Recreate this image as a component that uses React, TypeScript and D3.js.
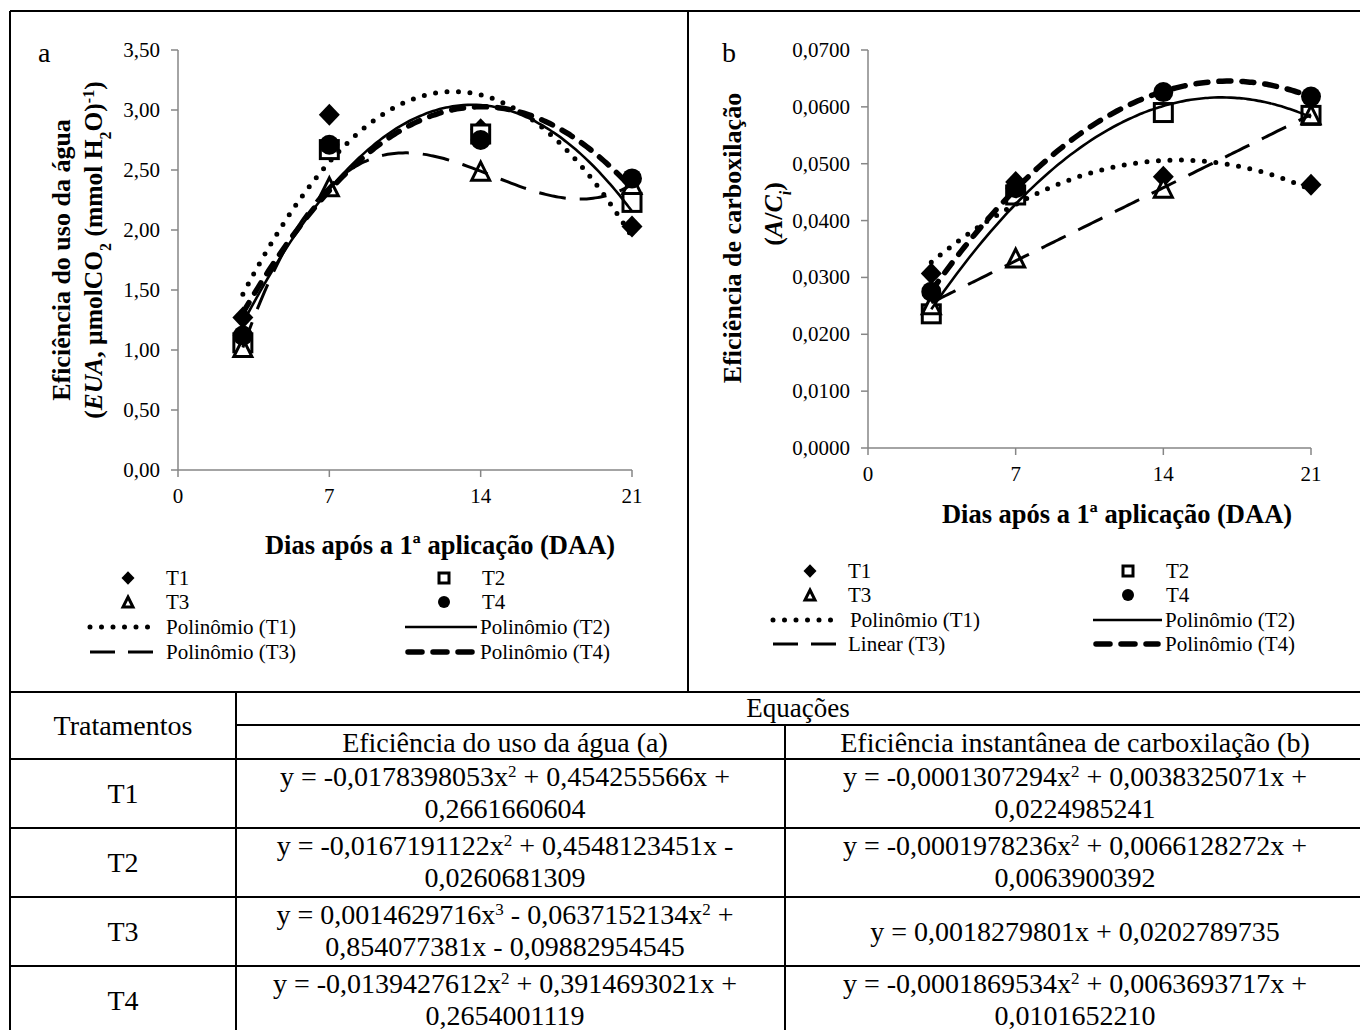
import React from 'react';
import * as d3 from 'd3';

// dias após a 1a aplicação
const days = [3, 7, 14, 21];

// (a) eficiência do uso da água
const euaT1 = [1.27, 2.96, 2.84, 2.03];
const euaT2 = [1.06, 2.67, 2.80, 2.23];
const euaT3 = [1.02, 2.36, 2.49, 2.38];
const euaT4 = [1.12, 2.71, 2.75, 2.43];

// (b) eficiência de carboxilação
const carbT1 = [0.0307, 0.0468, 0.0477, 0.0463];
const carbT2 = [0.0236, 0.0445, 0.0590, 0.0585];
const carbT3 = [0.0252, 0.0334, 0.0457, 0.0586];
const carbT4 = [0.0275, 0.0457, 0.0626, 0.0618];

const xTicks = [0, 7, 14, 21];
const yTicksA = [0, 0.5, 1, 1.5, 2, 2.5, 3, 3.5];
const yTicksB = [0, 0.01, 0.02, 0.03, 0.04, 0.05, 0.06, 0.07];

const tratamentos = ['T1', 'T2', 'T3', 'T4'];
// equações da tabela: [linha1, linha2] ; '^' marca expoente
const eqA = [
  ['y = -0,0178398053x^2^ + 0,454255566x +', '0,2661660604'],
  ['y = -0,0167191122x^2^ + 0,4548123451x -', '0,0260681309'],
  ['y = 0,0014629716x^3^ - 0,0637152134x^2^ +', '0,854077381x - 0,09882954545'],
  ['y = -0,0139427612x^2^ + 0,3914693021x +', '0,2654001119'],
];
const eqB = [
  ['y = -0,0001307294x^2^ + 0,0038325071x +', '0,0224985241'],
  ['y = -0,0001978236x^2^ + 0,0066128272x +', '0,0063900392'],
  ['y = 0,0018279801x + 0,0202789735'],
  ['y = -0,0001869534x^2^ + 0,0063693717x +', '0,0101652210'],
];

const FONT = '"Liberation Serif", "Times New Roman", serif';

// line styles of the trendlines
const styles = {
  dot: { strokeWidth: 5, strokeDasharray: '0 11.5', strokeLinecap: 'round' as const },
  solid: { strokeWidth: 2.6 },
  longdash: { strokeWidth: 3, strokeDasharray: '27 14' },
  heavy: { strokeWidth: 5.5, strokeDasharray: '12 11', strokeLinecap: 'round' as const },
};

// least squares polynomial (like excel trendline)
function polyfit(xs: number[], ys: number[], deg: number) {
  const n = deg + 1;
  const A: number[][] = [];
  for (let r = 0; r < n; r++) {
    const row: number[] = [];
    for (let c = 0; c < n; c++) row.push(d3.sum(xs, x => Math.pow(x, r + c)));
    row.push(d3.sum(xs.map((x, i) => Math.pow(x, r) * ys[i])));
    A.push(row);
  }
  for (let i = 0; i < n; i++) {
    let p = i;
    for (let k = i + 1; k < n; k++) if (Math.abs(A[k][i]) > Math.abs(A[p][i])) p = k;
    [A[i], A[p]] = [A[p], A[i]];
    for (let k = i + 1; k < n; k++) {
      const f = A[k][i] / A[i][i];
      for (let c = i; c <= n; c++) A[k][c] -= f * A[i][c];
    }
  }
  const coef = new Array(n).fill(0);
  for (let i = n - 1; i >= 0; i--) {
    let s = A[i][n];
    for (let c = i + 1; c < n; c++) s -= A[i][c] * coef[c];
    coef[i] = s / A[i][i];
  }
  return (x: number) => coef.reduce((acc, c, i) => acc + c * Math.pow(x, i), 0);
}

function Marker({ type, x, y, s }: { type: string; x: number; y: number; s: number }) {
  const h = s / 2;
  if (type === 'diamond')
    return <path d={`M${x},${y - h * 1.05}L${x + h},${y}L${x},${y + h * 1.05}L${x - h},${y}Z`} fill="#000" />;
  if (type === 'square')
    return <rect x={x - h + 1.5} y={y - h + 1.5} width={s - 3} height={s - 3} fill="#fff" stroke="#000" strokeWidth={3} />;
  if (type === 'triangle')
    return <path d={`M${x},${y - h + 1.5}L${x + h - 1.5},${y + h - 1.5}L${x - h + 1.5},${y + h - 1.5}Z`} fill="#fff" stroke="#000" strokeWidth={3} strokeLinejoin="miter" />;
  return <circle cx={x} cy={y} r={h - 0.5} fill="#000" />;
}

type Series = { name: string; marker: string; values: number[]; deg: number; style: any };

function Panel(props: {
  letter: string; x0: number; x1: number; y0: number; y1: number; yMax: number;
  yTicks: number[]; fmt: (v: number) => string; series: Series[];
}) {
  const { x0, x1, y0, y1, yMax, yTicks, fmt, series } = props;
  const x = d3.scaleLinear().domain([0, 21]).range([x0, x1]);
  const y = d3.scaleLinear().domain([0, yMax]).range([y0, y1]);
  const line = d3.line<[number, number]>().x(d => x(d[0])).y(d => y(d[1])).curve(d3.curveBasis);
  const grid = d3.range(days[0], days[days.length - 1] + 0.001, 0.2);
  return (
    <g>
      <line x1={x0} x2={x0} y1={y0} y2={y1} stroke="#868686" strokeWidth={1.5} />
      <line x1={x0} x2={x1} y1={y0} y2={y0} stroke="#868686" strokeWidth={1.5} />
      {yTicks.map(t => (
        <g key={t}>
          <line x1={x0 - 7} x2={x0} y1={y(t)} y2={y(t)} stroke="#868686" strokeWidth={1.5} />
          <text x={x0 - 18} y={y(t) + 7} textAnchor="end" fontSize={21}>{fmt(t)}</text>
        </g>
      ))}
      {xTicks.map(t => (
        <g key={t}>
          <line x1={x(t)} x2={x(t)} y1={y0} y2={y0 + 7} stroke="#868686" strokeWidth={1.5} />
          <text x={x(t)} y={y0 + 33} textAnchor="middle" fontSize={21}>{t}</text>
        </g>
      ))}
      {series.map(s => (
        <g key={s.name}>
          {s.values.map((v, i) => <Marker key={i} type={s.marker} x={x(days[i])} y={y(v)} s={21} />)}
        </g>
      ))}
      {series.map(s => {
        const f = polyfit(days, s.values, s.deg);
        const pts = grid.map(d => [d, f(d)] as [number, number]);
        return <path key={s.name} d={line(pts) || ''} fill="none" stroke="#000" {...s.style} />;
      })}
    </g>
  );
}

function LegendItem({ x, y, kind, label }: { x: number; y: number; kind: string; label: string }) {
  return (
    <g>
      <Marker type={kind} x={x} y={y - 7} s={13} />
      <text x={x + 38} y={y} fontSize={21}>{label}</text>
    </g>
  );
}

function LegendLine({ x0, x1, tx, y, style, label }: { x0: number; x1: number; tx: number; y: number; style: any; label: string }) {
  return (
    <g>
      <line x1={x0} x2={x1} y1={y - 7} y2={y - 7} stroke="#000" {...style} />
      <text x={tx} y={y} fontSize={21}>{label}</text>
    </g>
  );
}

function Eq({ x, y, text }: { x: number; y: number; text: string }) {
  const parts = text.split('^');
  return (
    <text x={x} y={y} textAnchor="middle" fontSize={28}>
      {parts.map((p, i) => i % 2 === 1
        ? <tspan key={i} fontSize={17} baselineShift="super">{p}</tspan>
        : <tspan key={i}>{p}</tspan>)}
    </text>
  );
}

export default function App() {
  const fa = (v: number) => d3.format('.2f')(v).replace('.', ',');
  const fb = (v: number) => d3.format('.4f')(v).replace('.', ',');

  const seriesA: Series[] = [
    { name: 'T1', marker: 'diamond', values: euaT1, deg: 2, style: styles.dot },
    { name: 'T2', marker: 'square', values: euaT2, deg: 2, style: styles.solid },
    { name: 'T3', marker: 'triangle', values: euaT3, deg: 3, style: styles.longdash },
    { name: 'T4', marker: 'circle', values: euaT4, deg: 2, style: styles.heavy },
  ];
  const seriesB: Series[] = [
    { name: 'T1', marker: 'diamond', values: carbT1, deg: 2, style: styles.dot },
    { name: 'T2', marker: 'square', values: carbT2, deg: 2, style: styles.solid },
    { name: 'T3', marker: 'triangle', values: carbT3, deg: 1, style: styles.longdash },
    { name: 'T4', marker: 'circle', values: carbT4, deg: 2, style: styles.heavy },
  ];

  const rowLines = [759, 828, 897, 966];
  const colA = 505;
  const colB = 1075;

  return (
    <svg width={1360} height={1030} style={{ position: 'absolute', left: 0, top: 0, background: '#fff' }}
      fontFamily={FONT}>
      <rect x={0} y={0} width={1360} height={1030} fill="#fff" />

      {/* moldura */}
      <g stroke="#000" strokeWidth={2}>
        <line x1={10} x2={1360} y1={11} y2={11} />
        <line x1={10} x2={10} y1={11} y2={1030} />
        <line x1={688} x2={688} y1={11} y2={692} />
        <line x1={10} x2={1360} y1={692} y2={692} />
        <line x1={236} x2={236} y1={692} y2={1030} />
        <line x1={236} x2={1360} y1={725} y2={725} />
        <line x1={785} x2={785} y1={725} y2={1030} />
        {rowLines.map(r => <line key={r} x1={10} x2={1360} y1={r} y2={r} />)}
      </g>

      {/* painel a */}
      <text x={38} y={62} fontSize={28}>a</text>
      <Panel letter="a" x0={178} x1={632} y0={470} y1={50} yMax={3.5} yTicks={yTicksA} fmt={fa} series={seriesA} />
      <text transform="translate(70,260) rotate(-90)" textAnchor="middle" fontSize={26} fontWeight="bold">
        Eficiência do uso da água
      </text>
      <text transform="translate(102,250) rotate(-90)" textAnchor="middle" fontSize={25.5} fontWeight="bold">
        (<tspan fontStyle="italic">EUA</tspan>, µmolCO<tspan fontSize={16} baselineShift="sub">2</tspan> (mmol H<tspan fontSize={16} baselineShift="sub">2</tspan>O)<tspan fontSize={16} baselineShift="super">-1</tspan>)
      </text>
      <text x={440} y={554} textAnchor="middle" fontSize={26.5} fontWeight="bold">Dias após a 1ª aplicação (DAA)</text>

      <LegendItem x={128} y={585} kind="diamond" label="T1" />
      <LegendItem x={444} y={585} kind="square" label="T2" />
      <LegendItem x={128} y={609} kind="triangle" label="T3" />
      <LegendItem x={444} y={609} kind="circle" label="T4" />
      <LegendLine x0={90} x1={152} tx={166} y={634} style={styles.dot} label="Polinômio (T1)" />
      <LegendLine x0={405} x1={477} tx={480} y={634} style={styles.solid} label="Polinômio (T2)" />
      <LegendLine x0={90} x1={160} tx={166} y={659} style={{ strokeWidth: 3, strokeDasharray: '25 13' }} label="Polinômio (T3)" />
      <LegendLine x0={408} x1={474} tx={480} y={659} style={{ strokeWidth: 5.5, strokeDasharray: '14 11', strokeLinecap: 'round' }} label="Polinômio (T4)" />

      {/* painel b */}
      <text x={722} y={62} fontSize={28}>b</text>
      <Panel letter="b" x0={868} x1={1311} y0={448} y1={50} yMax={0.07} yTicks={yTicksB} fmt={fb} series={seriesB} />
      <text transform="translate(741,238) rotate(-90)" textAnchor="middle" fontSize={26} fontWeight="bold">
        Eficiência de carboxilação
      </text>
      <text transform="translate(782,214) rotate(-90)" textAnchor="middle" fontSize={26} fontWeight="bold">
        (<tspan fontStyle="italic">A</tspan>/<tspan fontStyle="italic">C</tspan><tspan fontStyle="italic" fontSize={16} baselineShift="sub">i</tspan>)
      </text>
      <text x={1117} y={523} textAnchor="middle" fontSize={26.5} fontWeight="bold">Dias após a 1ª aplicação (DAA)</text>

      <LegendItem x={810} y={578} kind="diamond" label="T1" />
      <LegendItem x={1128} y={578} kind="square" label="T2" />
      <LegendItem x={810} y={602} kind="triangle" label="T3" />
      <LegendItem x={1128} y={602} kind="circle" label="T4" />
      <LegendLine x0={773} x1={835} tx={850} y={627} style={styles.dot} label="Polinômio (T1)" />
      <LegendLine x0={1093} x1={1162} tx={1165} y={627} style={styles.solid} label="Polinômio (T2)" />
      <LegendLine x0={773} x1={845} tx={848} y={651} style={{ strokeWidth: 3, strokeDasharray: '25 13' }} label="Linear (T3)" />
      <LegendLine x0={1096} x1={1158} tx={1165} y={651} style={{ strokeWidth: 5.5, strokeDasharray: '14 11', strokeLinecap: 'round' }} label="Polinômio (T4)" />

      {/* tabela */}
      <text x={123} y={735} textAnchor="middle" fontSize={28}>Tratamentos</text>
      <text x={798} y={717} textAnchor="middle" fontSize={27}>Equações</text>
      <text x={colA} y={752} textAnchor="middle" fontSize={28}>Eficiência do uso da água (a)</text>
      <text x={colB} y={752} textAnchor="middle" fontSize={28}>Eficiência instantânea de carboxilação (b)</text>
      {tratamentos.map((t, i) => {
        const top = rowLines[i];
        const mid = top + 35;
        const a = eqA[i];
        const b = eqB[i];
        return (
          <g key={t}>
            <text x={123} y={mid + 9} textAnchor="middle" fontSize={28}>{t}</text>
            <Eq x={colA} y={mid - 8} text={a[0]} />
            <Eq x={colA} y={mid + 24} text={a[1]} />
            {b.length === 2 ? (
              <>
                <Eq x={colB} y={mid - 8} text={b[0]} />
                <Eq x={colB} y={mid + 24} text={b[1]} />
              </>
            ) : (
              <Eq x={colB} y={mid + 9} text={b[0]} />
            )}
          </g>
        );
      })}
    </svg>
  );
}
